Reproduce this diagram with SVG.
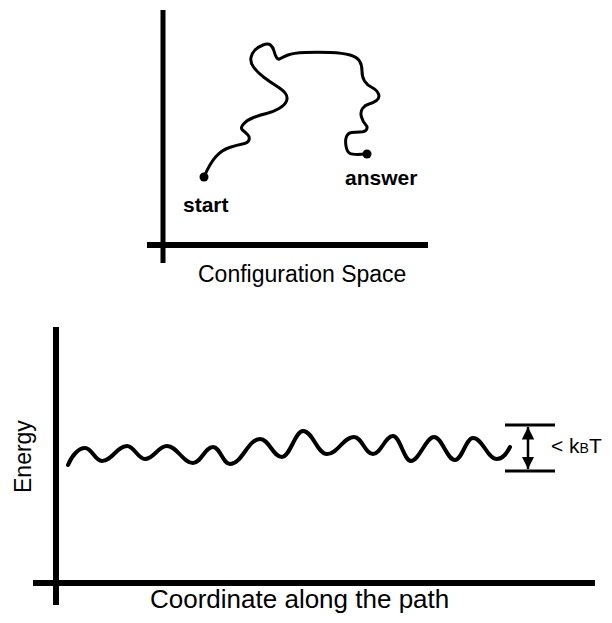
<svg xmlns="http://www.w3.org/2000/svg" width="612" height="623" viewBox="0 0 612 623">
<style>
.ax{stroke:#000;stroke-width:6;fill:none;stroke-linecap:butt}
.crv{stroke:#000;fill:none;stroke-linecap:round;stroke-linejoin:round}
.lbl{font-family:"Liberation Sans",Arial,sans-serif;fill:#000}
.b{font-weight:bold}
</style>
<defs>
<marker id="ah" viewBox="0 0 10 10" refX="10" refY="5" markerWidth="5" markerHeight="5" orient="auto-start-reverse" markerUnits="strokeWidth">
<path d="M0,0 L10,5 L0,10 Z" fill="#000"/>
</marker>
</defs>
<rect width="612" height="623" fill="#fff"/>

<g id="config-space">
<line class="ax" x1="163" y1="10" x2="163" y2="263" style="stroke-width:5"/>
<line class="ax" x1="147" y1="245" x2="428" y2="245"/>
<path class="crv" stroke-width="3" d="M204,177 Q210,163 216,156.5 Q222,150 229.5,147.5 Q237,145 242.5,144 Q248,143 249,140 Q250,137 247.5,134.5 Q245,132 242.5,130 Q240,128 243.5,124 Q247,120 253.5,117.5 Q260,115 266.5,113.5 Q273,112 279,108.5 Q285,105 286.5,101 Q288,97 285.5,93.5 Q283,90 276.5,86 Q270,82 263.5,77 Q257,72 253.5,67 Q250,62 251,57.5 Q252,53 255,50 Q258,47 263,45 Q268,43 270.5,45 Q273,47 274,51 Q275,55 276.5,57.5 Q278,60 280.5,58.5 Q283,57 288,55 Q293,53 305,52.5 Q317,52 330,52.5 Q343,53 350,55 Q357,57 359.5,61 Q362,65 362,71 Q362,77 364.5,81 Q367,85 372,87.5 Q377,90 378.5,94 Q380,98 376.5,100.5 Q373,103 369,104 Q365,105 362.5,108.5 Q360,112 361.5,117 Q363,122 365.5,124.5 Q368,127 366.5,129.5 Q365,132 360,132 Q355,132 351.5,132.5 Q348,133 346.5,136.5 Q345,140 346,146 Q347,152 350,153.5 Q353,155 367,154"/>
<circle cx="204" cy="177" r="4.5"/>
<circle cx="367" cy="154" r="4.5"/>
<text class="lbl b" x="183" y="212" font-size="21">start</text>
<text class="lbl b" x="345" y="185" font-size="21">answer</text>
<text class="lbl" x="198" y="282" font-size="23">Configuration Space</text>
</g>

<g id="energy-plot">
<line class="ax" x1="56" y1="327" x2="56" y2="605"/>
<line class="ax" x1="33" y1="583" x2="595" y2="583"/>
<path class="crv" stroke-width="4" d="M68,465 C72,455 79,448 85,448 C92,448 95,461 102,461 C112,461 117,446 127,446 C134,446 138,459 145,459 C154,459 158,446 167,446 C177,446 183,463 193,463 C201,463 205,447 213,447 C220,447 223,464 230,464 C242,464 248,439 260,439 C269,439 273,457 282,457 C290,457 295,431 303,431 C313,431 317,454 327,454 C338,454 343,437 354,437 C362,437 365,454 373,454 C381,454 385,436 393,436 C400,436 404,461 411,461 C419,461 426,437 434,437 C442,437 447,460 455,460 C462,460 466,438 473,438 C483,438 487,459 497,459 C503,459 507,453 510,447"/>
<text class="lbl" transform="translate(31,493) rotate(-90)" font-size="23">Energy</text>
<text class="lbl" x="150" y="608" font-size="26">Coordinate along the path</text>
</g>

<g id="kbt-marker">
<line x1="505" y1="425" x2="555" y2="425" stroke="#000" stroke-width="3"/>
<line x1="505" y1="471" x2="555" y2="471" stroke="#000" stroke-width="3"/>
<line x1="528" y1="427" x2="528" y2="469" stroke="#000" stroke-width="2.5" marker-start="url(#ah)" marker-end="url(#ah)"/>
<text class="lbl" x="551" y="453" font-size="21">&lt; k<tspan font-size="14">B</tspan>T</text>
</g>
</svg>
